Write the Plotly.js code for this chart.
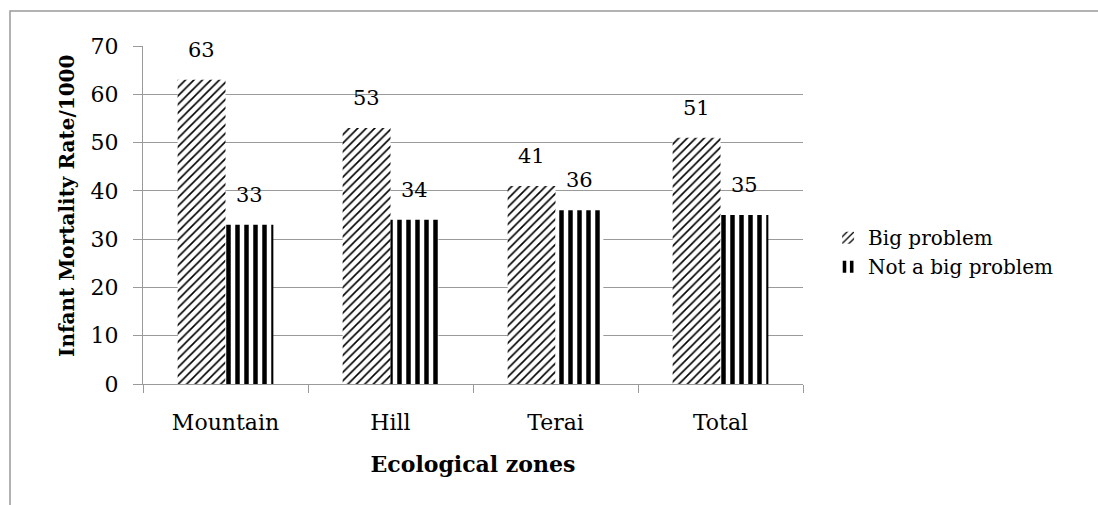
<!DOCTYPE html>
<html>
<head>
<meta charset="utf-8">
<script src="https://cdn.plot.ly/plotly-3.0.1.min.js"></script>
<style>
html,body{margin:0;padding:0;background:#fff;}
#chart{width:1098px;height:505px;}
</style>
</head>
<body>
<div id="chart"></div>
<script>
const categories = ["Mountain", "Hill", "Terai", "Total"];
const bigProblem = [63, 53, 41, 51];
const notBigProblem = [33, 34, 36, 35];
const seriesNames = ["Big problem", "Not a big problem"];
const yTicks = [0, 10, 20, 30, 40, 50, 60, 70];

const FONT = "DejaVu Serif, Liberation Serif, serif";
const GRID = "#9a9a9a";

const traces = [
  {
    type: "bar",
    name: seriesNames[0],
    x: categories,
    y: bigProblem,
    marker: {
      color: "#fff",
      line: {width: 0},
      pattern: {shape: "/", fgcolor: "#000", bgcolor: "#fff", size: 6, solidity: 0.27}
    }
  },
  {
    type: "bar",
    name: seriesNames[1],
    x: categories,
    y: notBigProblem,
    marker: {
      color: "#fff",
      line: {width: 0},
      pattern: {shape: "|", fgcolor: "#000", bgcolor: "#fff", size: 9, solidity: 0.5}
    }
  }
];

// value labels, placed from the data through the axes
const annotations = [];
[bigProblem, notBigProblem].forEach((vals, si) => {
  vals.forEach((v, i) => {
    annotations.push({
      x: categories[i], y: v, xref: "x", yref: "y",
      text: String(v), showarrow: false,
      xshift: si === 0 ? -24 : 24, yshift: 30,
      xanchor: "center", yanchor: "middle",
      font: {family: FONT, size: 21, color: "#000"}
    });
  });
});
annotations.push({
  xref: "paper", yref: "paper", x: -0.115, y: 0.527,
  text: "<b>Infant Mortality Rate/1000</b>", textangle: -90,
  showarrow: false, xanchor: "center", yanchor: "middle",
  font: {family: FONT, size: 20, color: "#000"}
});

const layout = {
  width: 1098,
  height: 505,
  margin: {l: 143, r: 295, t: 46, b: 121},
  paper_bgcolor: "#fff",
  plot_bgcolor: "#fff",
  barmode: "group",
  bargap: 0.42,
  bargroupgap: 0,
  showlegend: true,
  font: {family: FONT, size: 22, color: "#000"},
  xaxis: {
    title: {text: "<b>Ecological zones</b>", font: {family: FONT, size: 22}, standoff: 22},
    showline: true,
    linecolor: GRID,
    linewidth: 1,
    ticks: "outside",
    tickcolor: GRID,
    ticklen: 8,
    tickson: "boundaries",
    ticklabelstandoff: 19,
    tickfont: {family: FONT, size: 22},
    showgrid: false,
    zeroline: false
  },
  yaxis: {
    range: [0, 70],
    tickvals: yTicks,
    ticktext: yTicks.map(String),
    showline: true,
    linecolor: GRID,
    linewidth: 1,
    ticks: "outside",
    tickcolor: GRID,
    ticklen: 9,
    ticklabelstandoff: 10,
    showgrid: true,
    gridcolor: GRID,
    gridwidth: 1,
    zeroline: false,
    tickfont: {family: FONT, size: 22}
  },
  legend: {
    x: 1.038,
    xanchor: "left",
    y: 0.39,
    yanchor: "middle",
    font: {family: FONT, size: 20},
    tracegroupgap: 6,
    itemwidth: 30
  },
  annotations: annotations,
  shapes: [
    {type: "rect", xref: "paper", yref: "paper",
     x0: -0.2015, x1: 1.6, y0: -0.6, y1: 1.1036,
     line: {color: "#9a9a9a", width: 1.5}, fillcolor: "rgba(0,0,0,0)", layer: "below"}
  ]
};

Plotly.newPlot("chart", traces, layout, {displayModeBar: false, staticPlot: true});
</script>
</body>
</html>
